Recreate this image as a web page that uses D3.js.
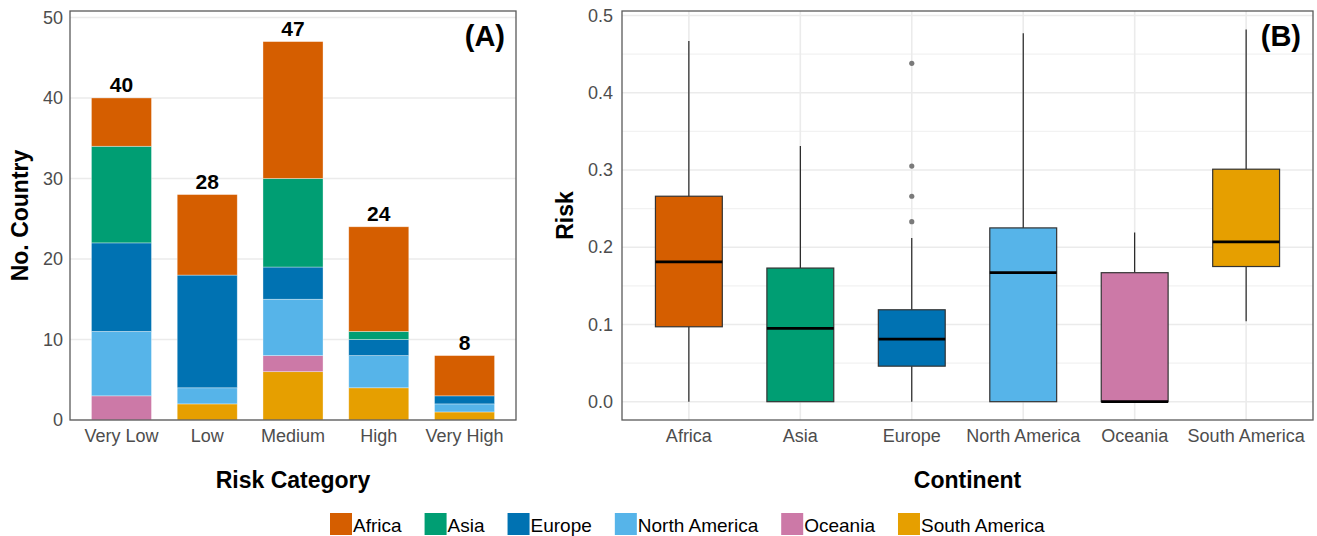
<!DOCTYPE html>
<html>
<head>
<meta charset="utf-8">
<script src="https://cdn.jsdelivr.net/npm/d3@7"></script>
<style>
  body { margin: 0; background: #fff; }
  svg text { font-family: "Liberation Sans", Arial, sans-serif; }
</style>
</head>
<body>
<div id="chart"></div>
<script>
// categorias y continentes
var riskCats = ["Very Low", "Low", "Medium", "High", "Very High"];
var continents = ["Africa", "Asia", "Europe", "North America", "Oceania", "South America"];
var colours = ["#D55E00", "#009E73", "#0072B2", "#56B4E9", "#CC79A7", "#E69F00"];

// numero de paises por categoria de riesgo (mismo orden que riskCats)
var africa = [6, 10, 17, 13, 5];
var asia = [12, 0, 11, 1, 0];
var europe = [11, 14, 4, 2, 1];
var northAmerica = [8, 2, 7, 4, 1];
var oceania = [3, 0, 2, 0, 0];
var southAmerica = [0, 2, 6, 4, 1];

// boxplot por continente: min, q1, mediana, q3, max
var boxLow = [0, 0, 0, 0, 0, 0.104];
var boxQ1 = [0.097, 0, 0.046, 0, 0, 0.175];
var boxMed = [0.181, 0.095, 0.081, 0.167, 0, 0.207];
var boxQ3 = [0.266, 0.173, 0.119, 0.225, 0.167, 0.301];
var boxHigh = [0.467, 0.331, 0.212, 0.477, 0.219, 0.482];
var europeOutliers = [0.438, 0.305, 0.266, 0.233];

var yTicksA = [0, 10, 20, 30, 40, 50];
var yTicksB = [0, 0.1, 0.2, 0.3, 0.4, 0.5];

var width = 1317, height = 536;
var svg = d3.select("#chart").append("svg")
    .attr("width", width)
    .attr("height", height);

var gridCol = "#ebebeb", borderCol = "#5a5a5a", tickCol = "#4d4d4d";

// ---------- panel A ----------
var pA = {left: 70, right: 516, top: 11, bottom: 420};
var xA = d3.scaleBand().domain(riskCats).range([pA.left, pA.right]).paddingInner(0.3).paddingOuter(0.25);
var yA = d3.scaleLinear().domain([0, 50.8]).range([pA.bottom, pA.top]);

var gA = svg.append("g");
gA.selectAll("line.grid").data(yTicksA).enter().append("line")
    .attr("x1", pA.left).attr("x2", pA.right)
    .attr("y1", function(d){ return yA(d); }).attr("y2", function(d){ return yA(d); })
    .attr("stroke", gridCol).attr("stroke-width", 1.6);

var seriesVals = [africa, asia, europe, northAmerica, oceania, southAmerica];
var rows = riskCats.map(function(c, i){
    var r = {cat: c};
    continents.forEach(function(k, j){ r[k] = seriesVals[j][i]; });
    return r;
});
// apilado: South America abajo, Africa arriba
var stack = d3.stack().keys(continents.slice().reverse());
var layers = stack(rows);

gA.selectAll("g.layer").data(layers).enter().append("g")
    .attr("fill", function(d){ return colours[continents.indexOf(d.key)]; })
    .selectAll("rect").data(function(d){ return d; }).enter().append("rect")
    .filter(function(d){ return d[1] - d[0] > 0; })
    .attr("x", function(d){ return xA(d.data.cat); })
    .attr("width", xA.bandwidth())
    .attr("y", function(d){ return yA(d[1]); })
    .attr("height", function(d){ return yA(d[0]) - yA(d[1]); })
    .attr("stroke", "#ffffff").attr("stroke-opacity", 0.5).attr("stroke-width", 0.7);

var totals = rows.map(function(r){ return d3.sum(continents, function(k){ return r[k]; }); });
gA.selectAll("text.total").data(riskCats).enter().append("text")
    .attr("x", function(d){ return xA(d) + xA.bandwidth()/2; })
    .attr("y", function(d, i){ return yA(totals[i]) - 6; })
    .attr("text-anchor", "middle")
    .style("font-size", "21px").style("font-weight", "bold")
    .text(function(d, i){ return totals[i]; });

gA.append("rect").attr("x", pA.left).attr("y", pA.top)
    .attr("width", pA.right - pA.left).attr("height", pA.bottom - pA.top)
    .attr("fill", "none").attr("stroke", borderCol).attr("stroke-width", 1.3);

var axA = gA.append("g").attr("transform", "translate(" + pA.left + ",0)")
    .call(d3.axisLeft(yA).tickValues(yTicksA).tickSize(0).tickPadding(7));
axA.select(".domain").remove();
axA.selectAll("text").style("font-size", "18px").attr("fill", tickCol)
    .style("font-family", "Liberation Sans, Arial, sans-serif");

var axAx = gA.append("g").attr("transform", "translate(0," + pA.bottom + ")")
    .call(d3.axisBottom(xA).tickSize(0).tickPadding(9));
axAx.select(".domain").remove();
axAx.selectAll("text").style("font-size", "18px").attr("fill", tickCol)
    .style("font-family", "Liberation Sans, Arial, sans-serif");

gA.append("text").attr("x", 505).attr("y", 46).attr("text-anchor", "end")
    .style("font-size", "29px").style("font-weight", "bold").text("(A)");
gA.append("text").attr("x", (pA.left + pA.right)/2).attr("y", 488).attr("text-anchor", "middle")
    .style("font-size", "23px").style("font-weight", "bold").text("Risk Category");
gA.append("text").attr("transform", "translate(28," + (pA.top + pA.bottom)/2 + ") rotate(-90)")
    .attr("text-anchor", "middle")
    .style("font-size", "23px").style("font-weight", "bold").text("No. Country");

// ---------- panel B ----------
var pB = {left: 622, right: 1313, top: 11, bottom: 420};
var xB = d3.scaleBand().domain(continents).range([pB.left, pB.right]).paddingInner(0.4).paddingOuter(0.3);
var yB = d3.scaleLinear().domain([-0.0237, 0.5058]).range([pB.bottom, pB.top]);
var gB = svg.append("g");
var cx = function(k){ return xB(k) + xB.bandwidth()/2; };

gB.selectAll("line.minor").data(d3.range(0.05, 0.5, 0.1)).enter().append("line")
    .attr("x1", pB.left).attr("x2", pB.right)
    .attr("y1", function(d){ return yB(d); }).attr("y2", function(d){ return yB(d); })
    .attr("stroke", "#f2f2f2").attr("stroke-width", 1.2);
gB.selectAll("line.major").data(yTicksB).enter().append("line")
    .attr("x1", pB.left).attr("x2", pB.right)
    .attr("y1", function(d){ return yB(d); }).attr("y2", function(d){ return yB(d); })
    .attr("stroke", gridCol).attr("stroke-width", 1.6);
gB.selectAll("line.vgrid").data(continents).enter().append("line")
    .attr("x1", cx).attr("x2", cx)
    .attr("y1", pB.top).attr("y2", pB.bottom)
    .attr("stroke", gridCol).attr("stroke-width", 1.6);

var boxes = gB.selectAll("g.box").data(continents).enter().append("g");
boxes.append("line")
    .attr("x1", cx).attr("x2", cx)
    .attr("y1", function(d, i){ return yB(boxHigh[i]); })
    .attr("y2", function(d, i){ return yB(boxQ3[i]); })
    .attr("stroke", "#111").attr("stroke-width", 1.1);
boxes.append("line")
    .attr("x1", cx).attr("x2", cx)
    .attr("y1", function(d, i){ return yB(boxQ1[i]); })
    .attr("y2", function(d, i){ return yB(boxLow[i]); })
    .attr("stroke", "#111").attr("stroke-width", 1.1);
boxes.append("rect")
    .attr("x", function(d){ return xB(d); })
    .attr("width", xB.bandwidth())
    .attr("y", function(d, i){ return yB(boxQ3[i]); })
    .attr("height", function(d, i){ return yB(boxQ1[i]) - yB(boxQ3[i]); })
    .attr("fill", function(d, i){ return colours[i]; })
    .attr("stroke", "#333").attr("stroke-width", 1.2);
boxes.append("line")
    .attr("x1", function(d){ return xB(d); })
    .attr("x2", function(d){ return xB(d) + xB.bandwidth(); })
    .attr("y1", function(d, i){ return yB(boxMed[i]); })
    .attr("y2", function(d, i){ return yB(boxMed[i]); })
    .attr("stroke", "#000").attr("stroke-width", 2.8);

gB.selectAll("circle.out").data(europeOutliers).enter().append("circle")
    .attr("cx", cx("Europe"))
    .attr("cy", function(d){ return yB(d); })
    .attr("r", 2.6).attr("fill", "#7a7a7a");

gB.append("rect").attr("x", pB.left).attr("y", pB.top)
    .attr("width", pB.right - pB.left).attr("height", pB.bottom - pB.top)
    .attr("fill", "none").attr("stroke", borderCol).attr("stroke-width", 1.3);

var axB = gB.append("g").attr("transform", "translate(" + pB.left + ",0)")
    .call(d3.axisLeft(yB).tickValues(yTicksB).tickFormat(d3.format(".1f")).tickSize(0).tickPadding(9));
axB.select(".domain").remove();
axB.selectAll("text").style("font-size", "18px").attr("fill", tickCol)
    .style("font-family", "Liberation Sans, Arial, sans-serif");

var axBx = gB.append("g").attr("transform", "translate(0," + pB.bottom + ")")
    .call(d3.axisBottom(xB).tickSize(0).tickPadding(9));
axBx.select(".domain").remove();
axBx.selectAll("text").style("font-size", "18px").attr("fill", tickCol)
    .style("font-family", "Liberation Sans, Arial, sans-serif");

gB.append("text").attr("x", 1301).attr("y", 46).attr("text-anchor", "end")
    .style("font-size", "29px").style("font-weight", "bold").text("(B)");
gB.append("text").attr("x", (pB.left + pB.right)/2).attr("y", 488).attr("text-anchor", "middle")
    .style("font-size", "23px").style("font-weight", "bold").text("Continent");
gB.append("text").attr("transform", "translate(573," + (pB.top + pB.bottom)/2 + ") rotate(-90)")
    .attr("text-anchor", "middle")
    .style("font-size", "23px").style("font-weight", "bold").text("Risk");

// ---------- legenda ----------
var leg = svg.append("g");
var lx = 330;
continents.forEach(function(k, i){
    leg.append("rect").attr("x", lx).attr("y", 513).attr("width", 22).attr("height", 22)
        .attr("fill", colours[i]);
    var t = leg.append("text").attr("x", lx + 23).attr("y", 532)
        .style("font-size", "19px").text(k);
    lx = lx + 23 + t.node().getComputedTextLength() + 23;
});
</script>
</body>
</html>
